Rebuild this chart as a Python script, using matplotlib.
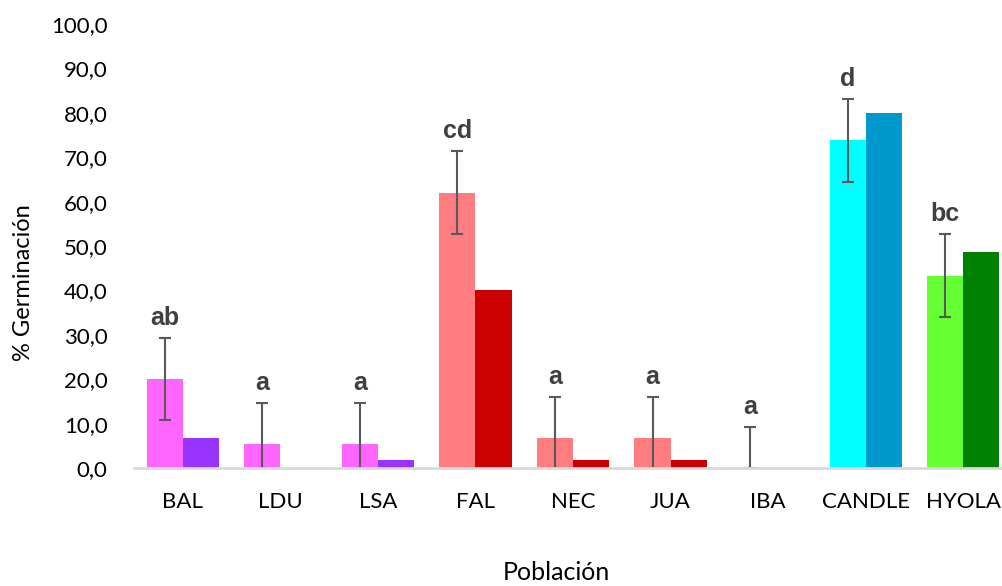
import matplotlib.pyplot as plt
import numpy as np

poblaciones = ['BAL', 'LDU', 'LSA', 'FAL', 'NEC', 'JUA', 'IBA', 'CANDLE', 'HYOLA']
serie1 = [20.0, 5.3, 5.3, 62.0, 6.7, 6.7, 0.0, 73.8, 43.3]
serie2 = [6.7, 0.0, 1.7, 40.0, 1.7, 1.7, 0.0, 80.0, 48.7]
error1 = [9.3, 9.3, 9.3, 9.3, 9.3, 9.3, 9.3, 9.3, 9.3]
letras = ['ab', 'a', 'a', 'cd', 'a', 'a', 'a', 'd', 'bc']
colores1 = ['#FF66FF', '#FF66FF', '#FF66FF', '#FF7C80', '#FF7C80', '#FF7C80', '#FF7C80', '#00FFFF', '#66FF33']
colores2 = ['#9933FF', '#9933FF', '#9933FF', '#CC0000', '#CC0000', '#CC0000', '#CC0000', '#0099CC', '#008000']

plt.rcParams['font.family'] = ['Lato', 'DejaVu Sans']

fig = plt.figure(figsize=(10.03, 5.86), dpi=100)
ax = fig.add_axes([134 / 1003, 1 - 468 / 586, 878 / 1003, (468 - 24) / 586])

x = np.arange(len(poblaciones))
w = 0.37
ax.bar(x - w / 2, serie1, w, color=colores1)
ax.bar(x + w / 2, serie2, w, color=colores2)

# error solo en la primera serie, sin bajar de cero
err_bajo = [min(e, v) for e, v in zip(error1, serie1)]
ax.errorbar(x - w / 2, serie1, yerr=[err_bajo, error1], fmt='none',
            ecolor='#595959', elinewidth=1.5, capsize=4.5, capthick=1.5)

for i in range(len(poblaciones)):
    ax.text(x[i] - w / 2, serie1[i] + error1[i] + 1.8, letras[i], ha='center', va='bottom',
            fontsize=18, fontweight='bold', color='#404040', family='Liberation Sans')

ax.set_xlim(-0.5, len(poblaciones) - 0.5)
ax.set_ylim(0, 100)
ax.set_yticks(np.arange(0, 101, 10))
ax.set_yticklabels([f'{v:.1f}'.replace('.', ',') for v in np.arange(0, 101, 10)])
ax.set_xticks(x)
ax.set_xticklabels(poblaciones)
ax.tick_params(axis='both', length=0, labelsize=16, colors='black')
ax.tick_params(axis='y', pad=19)
ax.tick_params(axis='x', pad=17)
for s in ['top', 'right', 'left']:
    ax.spines[s].set_visible(False)
ax.spines['bottom'].set_color('#D9D9D9')
ax.spines['bottom'].set_linewidth(2)

fig.text(24 / 1003, 1 - 283 / 586, '% Germinación', rotation=90, ha='center', va='center', fontsize=17)
fig.text(556 / 1003, 1 - 573 / 586, 'Población', ha='center', va='center', fontsize=18)

fig.savefig('out.png', dpi=100)
